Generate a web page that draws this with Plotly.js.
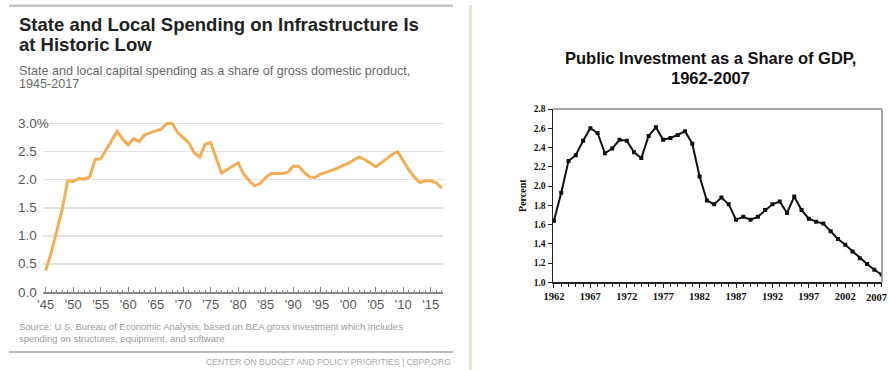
<!DOCTYPE html>
<html>
<head>
<meta charset="utf-8">
<script src="https://cdn.plot.ly/plotly-3.0.1.min.js"></script>
<style>
html,body{margin:0;padding:0;background:#fff;}
#chart{width:889px;height:370px;}
</style>
</head>
<body>
<div id="chart"></div>
<script>
// ---------- Left chart data (CBPP) ----------
const leftYears = [1945,1946,1947,1948,1949,1950,1951,1952,1953,1954,1955,1956,1957,1958,1959,
  1960,1961,1962,1963,1964,1965,1966,1967,1968,1969,1970,1971,1972,1973,1974,1975,1976,1977,1978,1979,
  1980,1981,1982,1983,1984,1985,1986,1987,1988,1989,1990,1991,1992,1993,1994,1995,1996,1997,1998,1999,
  2000,2001,2002,2003,2004,2005,2006,2007,2008,2009,2010,2011,2012,2013,2014,2015,2016,2017];
const leftValues = [0.38,0.70,1.08,1.47,1.98,1.97,2.02,2.01,2.05,2.36,2.37,2.53,2.69,2.86,2.72,
  2.62,2.73,2.68,2.80,2.84,2.87,2.90,3.00,3.00,2.84,2.75,2.66,2.48,2.40,2.63,2.66,2.38,2.12,2.18,2.24,
  2.30,2.10,1.98,1.89,1.93,2.04,2.11,2.11,2.11,2.13,2.24,2.24,2.13,2.05,2.04,2.10,2.13,2.16,2.20,2.25,
  2.29,2.35,2.40,2.36,2.29,2.23,2.30,2.38,2.45,2.50,2.33,2.18,2.05,1.95,1.98,1.98,1.95,1.85];
const leftXTickVals = [1945,1950,1955,1960,1965,1970,1975,1980,1985,1990,1995,2000,2005,2010,2015];
const leftXTickText = ["'45","'50","'55","'60","'65","'70","'75","'80","'85","'90","'95","'00","'05","'10","'15"];
const leftYTickVals = [0,0.5,1.0,1.5,2.0,2.5,3.0];
const leftYTickText = ["0.0","0.5","1.0","1.5","2.0","2.5","3.0%"];

// ---------- Right chart data ----------
const rightYears = [1962,1963,1964,1965,1966,1967,1968,1969,1970,1971,1972,1973,1974,1975,1976,1977,
  1978,1979,1980,1981,1982,1983,1984,1985,1986,1987,1988,1989,1990,1991,1992,1993,1994,1995,1996,1997,
  1998,1999,2000,2001,2002,2003,2004,2005,2006,2007];
const rightValues = [1.64,1.93,2.26,2.32,2.47,2.60,2.55,2.34,2.39,2.48,2.47,2.35,2.29,2.52,2.61,2.48,
  2.50,2.53,2.57,2.44,2.10,1.85,1.81,1.88,1.81,1.65,1.68,1.65,1.68,1.75,1.81,1.84,1.72,1.89,1.75,1.66,
  1.63,1.61,1.53,1.45,1.39,1.32,1.25,1.19,1.13,1.08];
const rightXTickVals = [1962,1967,1972,1977,1982,1987,1992,1997,2002,2007];
const rightXTickText = ["1962","1967","1972","1977","1982","1987","1992","1997","2002","2007"];

// ---------- Texts ----------
const leftTitle = ["State and Local Spending on Infrastructure Is", "at Historic Low"];
const leftSubtitle = ["State and local capital spending as a share of gross domestic product,", "1945-2017"];
const leftSource = ["Source: U.S. Bureau of Economic Analysis, based on BEA gross investment which includes",
  "spending on structures, equipment, and software"];
const leftCredit = "CENTER ON BUDGET AND POLICY PRIORITIES | CBPP.ORG";
const rightTitle = ["Public Investment as a Share of GDP,", "1962-2007"];
const rightYTitle = "Percent";

// ---------- helpers ----------
const W = 889, H = 370;
const px = x => x / W;
const py = y => 1 - y / H;
const SANS = "Liberation Sans, Arial, sans-serif";
const SERIF = "Liberation Serif, Times New Roman, serif";

const annotations = [];
function txt(text, x, y, opts) {
  annotations.push(Object.assign({
    text: text, xref: 'paper', yref: 'paper', x: px(x), y: py(y),
    showarrow: false, xanchor: 'left', yanchor: 'middle'
  }, opts));
}
leftTitle.forEach((t, i) => txt('<b>' + t + '</b>', 17, [24, 44.5][i],
  {font: {family: SANS, size: 18.5, color: '#222'}}));
leftSubtitle.forEach((t, i) => txt(t, 17, [71, 83.5][i],
  {font: {family: SANS, size: 12.6, color: '#6a6a6a'}}));
leftSource.forEach((t, i) => txt(t, 17, [326, 338][i],
  {font: {family: SANS, size: 9.5, color: '#9c9c9c'}}));
txt(leftCredit, 453, 362, {xanchor: 'right', font: {family: SANS, size: 8.6, color: '#aaaaaa'}});
leftYTickVals.forEach((v, i) => annotations.push({
  text: leftYTickText[i], xref: 'paper', yref: 'y', x: px(16), y: v,
  showarrow: false, xanchor: 'left', yanchor: 'middle',
  font: {family: SANS, size: 13.5, color: '#5a5a5a'}
}));
rightTitle.forEach((t, i) => txt('<b>' + t + '</b>', 710, [58, 78][i],
  {xanchor: 'center', font: {family: SANS, size: 16.5, color: '#111'}}));
// last right x tick label, kept inside the page edge
const lastIdx = rightXTickVals.length - 1;
annotations.push({
  text: '<b>' + rightXTickText[lastIdx] + '</b>', xref: 'paper', yref: 'paper',
  x: px(888.5), y: py(297), xanchor: 'right', yanchor: 'middle', showarrow: false,
  font: {family: SERIF, size: 10.5, color: '#111'}
});

const shapes = [
  {type: 'line', xref: 'paper', yref: 'paper', x0: px(9), x1: px(453), y0: py(5.7), y1: py(5.7),
   line: {color: '#c6c6c6', width: 2.5}},
  {type: 'line', xref: 'paper', yref: 'paper', x0: px(9), x1: px(453), y0: py(352), y1: py(352),
   line: {color: '#bdbdbd', width: 2}},
  {type: 'line', xref: 'paper', yref: 'paper', x0: px(470.5), x1: px(470.5), y0: py(5), y1: py(370),
   line: {color: '#e3e6cb', width: 3}},
  {type: 'line', xref: 'paper', yref: 'paper', x0: px(553), x1: px(882), y0: py(109), y1: py(109),
   line: {color: '#8a8a8a', width: 1.5}},
  {type: 'line', xref: 'paper', yref: 'paper', x0: px(882), x1: px(882), y0: py(109), y1: py(282.3),
   line: {color: '#8a8a8a', width: 1.5}}
];

const traces = [
  {x: leftYears, y: leftValues, type: 'scatter', mode: 'lines', xaxis: 'x', yaxis: 'y',
   line: {color: '#f2ad55', width: 3}, hoverinfo: 'skip'},
  {x: rightYears, y: rightValues, type: 'scatter', mode: 'lines+markers', xaxis: 'x2', yaxis: 'y2',
   line: {color: '#111', width: 2}, marker: {symbol: 'square', size: 4, color: '#111'}, hoverinfo: 'skip'}
];

const layout = {
  width: W, height: H, margin: {l: 0, r: 0, t: 0, b: 0},
  paper_bgcolor: '#fff', plot_bgcolor: 'rgba(0,0,0,0)', showlegend: false,
  xaxis: {
    domain: [px(43), px(443)], range: [1944.51, 2017.24], anchor: 'y',
    tickmode: 'array', tickvals: leftXTickVals, ticktext: leftXTickText,
    ticks: 'inside', ticklen: 5, tickwidth: 1, tickcolor: '#888',
    minor: {tickmode: 'linear', tick0: 1945, dtick: 1, ticks: 'inside', ticklen: 2.5, tickwidth: 1, tickcolor: '#888', showgrid: false},
    showline: true, linecolor: '#888', linewidth: 1.5, showgrid: false, zeroline: false,
    tickfont: {family: SANS, size: 13, color: '#5a5a5a'}, ticklabelstandoff: 0
  },
  yaxis: {
    domain: [py(292), py(117.9)], range: [0, 3.1], anchor: 'x',
    tickmode: 'array', tickvals: leftYTickVals, showticklabels: false, ticks: '',
    showgrid: true, gridcolor: '#e2e2e2', gridwidth: 1.5, zeroline: false, showline: false
  },
  xaxis2: {
    domain: [px(553), px(882)], range: [1961.87, 2007.05], anchor: 'y2',
    tickmode: 'array', tickvals: rightXTickVals.slice(0, lastIdx), ticktext: rightXTickText.slice(0, lastIdx),
    ticks: 'outside', ticklen: 4, tickwidth: 1, tickcolor: '#222',
    minor: {tickmode: 'linear', tick0: 1962, dtick: 1, ticks: 'outside', ticklen: 3, tickwidth: 1, tickcolor: '#222', showgrid: false},
    showline: true, linecolor: '#222', linewidth: 1.5, showgrid: false, zeroline: false,
    tickfont: {family: SERIF, size: 10.5, color: '#111', weight: 'bold'}
  },
  yaxis2: {
    domain: [py(282.3), py(109)], range: [1.0, 2.8], anchor: 'x2',
    tickmode: 'linear', tick0: 1.0, dtick: 0.2, tickformat: '.1f',
    ticks: 'outside', ticklen: 4, tickwidth: 1, tickcolor: '#222',
    showline: true, linecolor: '#222', linewidth: 1.5, showgrid: false, zeroline: false,
    tickfont: {family: SERIF, size: 9.5, color: '#111', weight: 'bold'},
    title: {text: '<b>' + rightYTitle + '</b>', standoff: 5, font: {family: SERIF, size: 10, color: '#111'}}
  },
  annotations: annotations,
  shapes: shapes
};

Plotly.newPlot('chart', traces, layout, {staticPlot: true, displayModeBar: false});
</script>
</body>
</html>
